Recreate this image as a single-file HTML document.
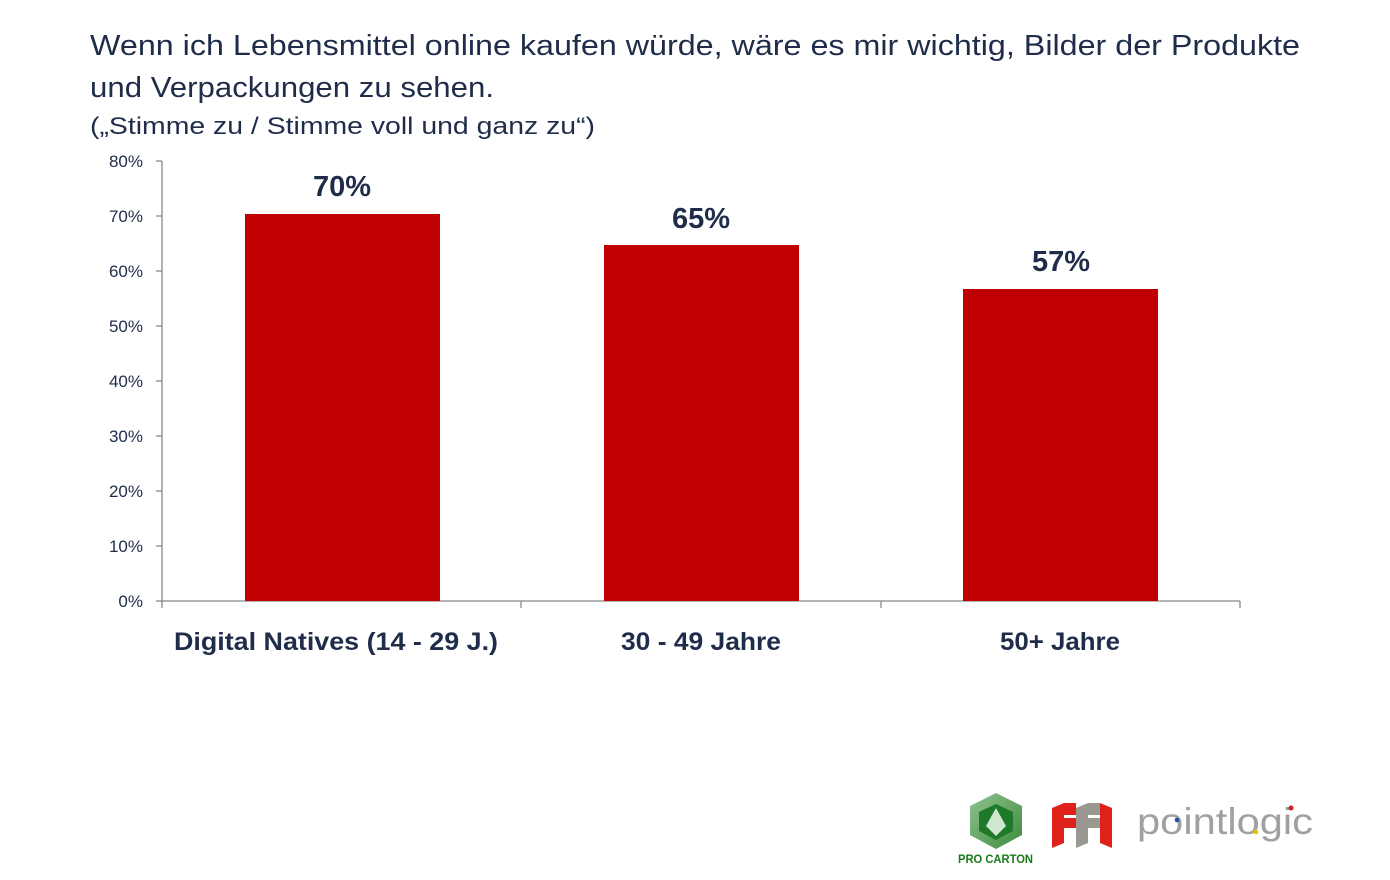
<!DOCTYPE html>
<html><head><meta charset="utf-8"><style>
html,body{margin:0;padding:0;background:#fff;}
svg{display:block;}
</style></head><body>
<svg width="1390" height="880" viewBox="0 0 1390 880" xmlns="http://www.w3.org/2000/svg" font-family="'Liberation Sans', sans-serif">
<rect width="1390" height="880" fill="#fff"/>
<g fill="#1f2d4a">
<text x="90" y="55" font-size="29" textLength="1210" lengthAdjust="spacingAndGlyphs">Wenn ich Lebensmittel online kaufen würde, wäre es mir wichtig, Bilder der Produkte</text>
<text x="90" y="97" font-size="29" textLength="404" lengthAdjust="spacingAndGlyphs">und Verpackungen zu sehen.</text>
<text x="90" y="134" font-size="24" textLength="505" lengthAdjust="spacingAndGlyphs">(„Stimme zu / Stimme voll und ganz zu“)</text>
</g>
<!-- axes -->
<g stroke="#888" stroke-width="1.3" fill="none">
<line x1="162" y1="161" x2="162" y2="608"/>
<line x1="162" y1="601" x2="1240" y2="601"/>
<line x1="156" y1="161" x2="162" y2="161"/>
<line x1="156" y1="216" x2="162" y2="216"/>
<line x1="156" y1="271" x2="162" y2="271"/>
<line x1="156" y1="326" x2="162" y2="326"/>
<line x1="156" y1="381" x2="162" y2="381"/>
<line x1="156" y1="436" x2="162" y2="436"/>
<line x1="156" y1="491" x2="162" y2="491"/>
<line x1="156" y1="546" x2="162" y2="546"/>
<line x1="156" y1="601" x2="162" y2="601"/>
<line x1="521" y1="601" x2="521" y2="608"/>
<line x1="881" y1="601" x2="881" y2="608"/>
<line x1="1240" y1="601" x2="1240" y2="608"/>
</g>
<g fill="#1f2d4a" font-size="17" text-anchor="end">
<text x="143" y="167">80%</text>
<text x="143" y="222">70%</text>
<text x="143" y="277">60%</text>
<text x="143" y="332">50%</text>
<text x="143" y="387">40%</text>
<text x="143" y="442">30%</text>
<text x="143" y="497">20%</text>
<text x="143" y="552">10%</text>
<text x="143" y="607">0%</text>
</g>
<!-- bars -->
<g fill="#c00000">
<rect x="245" y="214" width="195" height="387"/>
<rect x="604" y="245" width="195" height="356"/>
<rect x="963" y="289" width="195" height="312"/>
</g>
<g fill="#1f2d4a" font-size="29" font-weight="bold" text-anchor="middle">
<text x="342" y="196">70%</text>
<text x="701" y="228">65%</text>
<text x="1061" y="271">57%</text>
</g>
<g fill="#1f2d4a" font-size="25" font-weight="bold">
<text x="174" y="650" textLength="324" lengthAdjust="spacingAndGlyphs">Digital Natives (14 - 29 J.)</text>
<text x="621" y="650" textLength="160" lengthAdjust="spacingAndGlyphs">30 - 49 Jahre</text>
<text x="1000" y="650" textLength="120" lengthAdjust="spacingAndGlyphs">50+ Jahre</text>
</g>
<!-- Pro Carton logo -->
<defs>
<linearGradient id="pg" x1="0" y1="0" x2="1" y2="1">
<stop offset="0" stop-color="#8fc38f"/><stop offset="1" stop-color="#3d8a3d"/>
</linearGradient>
</defs>
<polygon points="996,793 1022,806 1022,835 996,849 970,835 970,806" fill="url(#pg)"/>
<polygon points="996,804 1013,812 1013,831 996,840 979,831 979,812" fill="#1e7a2a"/>
<polygon points="996,808 1006,826 996,836 986,826" fill="#cfe6cf"/>
<text x="958" y="863" font-size="11.5" font-weight="bold" fill="#1a7a1a" textLength="75" lengthAdjust="spacingAndGlyphs">PRO CARTON</text>
<!-- FFI logo -->
<polygon points="1052,808 1064,803 1064,843 1052,848" fill="#e0201a"/>
<polygon points="1064,803 1076,803 1076,815 1064,815" fill="#e0201a"/>
<polygon points="1064,818 1076,818 1076,828 1064,828" fill="#e0201a"/>
<polygon points="1076,808 1088,803 1088,843 1076,848" fill="#9a9890"/>
<polygon points="1088,803 1100,803 1100,815 1088,815" fill="#9a9890"/>
<polygon points="1088,818 1100,818 1100,828 1088,828" fill="#9a9890"/>
<polygon points="1100,803 1112,808 1112,848 1100,843" fill="#e0201a"/>
<!-- pointlogic -->
<text x="1137" y="834" font-size="37" fill="#a0a0a0" textLength="176" lengthAdjust="spacingAndGlyphs">pointlogic</text>
<circle cx="1177" cy="820" r="2.3" fill="#2850a0"/>
<circle cx="1256" cy="832" r="2.3" fill="#e8c800"/>
<circle cx="1291" cy="808" r="2.5" fill="#d02020"/>
</svg>
</body></html>
